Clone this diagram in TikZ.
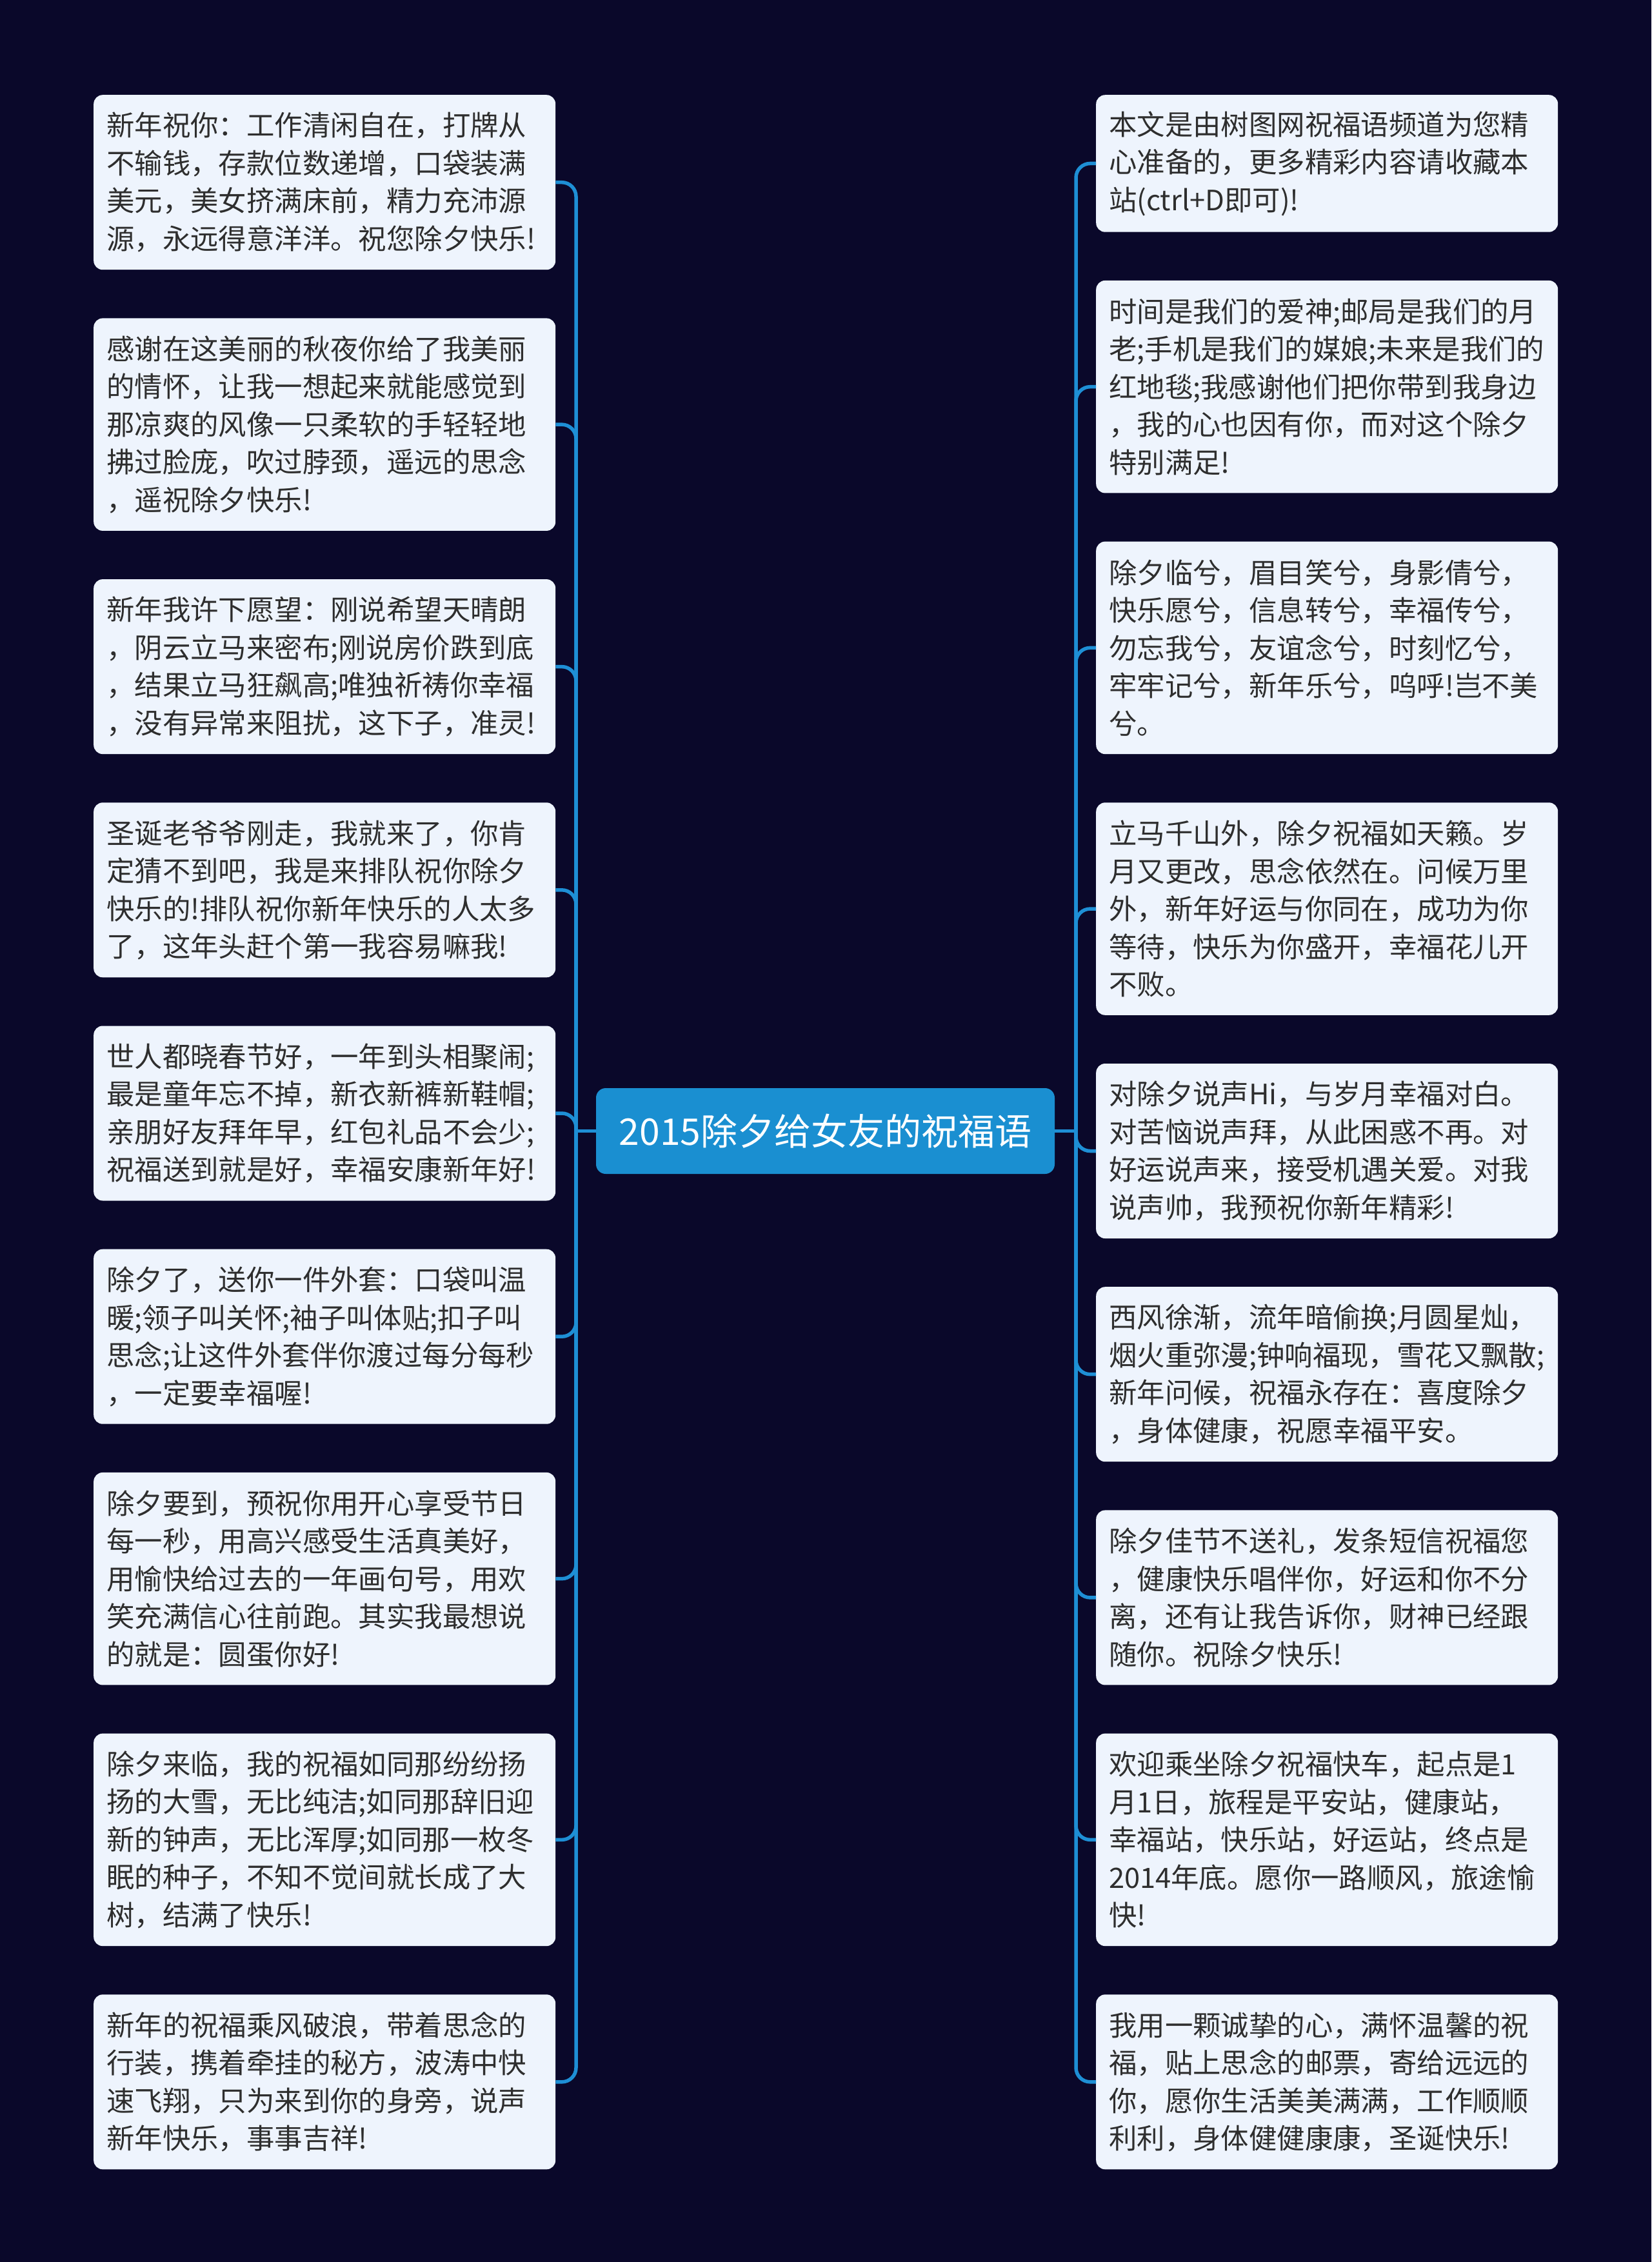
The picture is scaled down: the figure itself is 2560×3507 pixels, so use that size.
\documentclass[tikz,border=0pt]{standalone}
\usepackage{fontspec}
\setmainfont{Noto Sans CJK SC}
\usetikzlibrary{positioning}
\definecolor{bgc}{HTML}{0A082A}
\definecolor{leafc}{HTML}{EEF4FD}
\definecolor{txtc}{HTML}{2E2E2E}
\definecolor{linec}{HTML}{1E8FD5}
\definecolor{rootc}{HTML}{1A8FD1}
\begin{document}
\begin{tikzpicture}[x=1pt,y=-1pt,
  leaf/.style={draw=none, fill=leafc, rounded corners=14pt, text=txtc, align=left,
    text width=676pt, inner xsep=20pt, inner ysep=0pt, minimum width=716pt,
    font=\fontsize{43.4}{58.5}\selectfont},
  leafthree/.style={leaf, minimum height=212.5pt},
  leaffour/.style={leaf, minimum height=271pt},
  leaffive/.style={leaf, minimum height=329.5pt},
  root/.style={fill=rootc, rounded corners=15pt, text=white, minimum width=711pt,
    minimum height=133pt, inner sep=0pt, font=\fontsize{57}{64}\selectfont},
  conn/.style={draw=linec, line width=5.5pt},
  branch/.style={conn, rounded corners=22pt},
  node distance=74.8pt]
\fill[bgc] (0,0) rectangle (2560,3507);
\useasboundingbox (0,0) rectangle (2560,3507);

\node[root] (C) at (1279.5,1753.5) {2015除夕给女友的祝福语};

% left column
\node[leaffour, anchor=north west] (L1) at (145,147) {新年祝你：工作清闲自在，打牌从\\不输钱，存款位数递增，口袋装满\\美元，美女挤满床前，精力充沛源\\源，永远得意洋洋。祝您除夕快乐!};
\node[leaffive, below=of L1] (L2) {感谢在这美丽的秋夜你给了我美丽\\的情怀，让我一想起来就能感觉到\\那凉爽的风像一只柔软的手轻轻地\\拂过脸庞，吹过脖颈，遥远的思念\\，遥祝除夕快乐!};
\node[leaffour, below=of L2] (L3) {新年我许下愿望：刚说希望天晴朗\\，阴云立马来密布;刚说房价跌到底\\，结果立马狂飙高;唯独祈祷你幸福\\，没有异常来阻扰，这下子，准灵!};
\node[leaffour, below=of L3] (L4) {圣诞老爷爷刚走，我就来了，你肯\\定猜不到吧，我是来排队祝你除夕\\快乐的!排队祝你新年快乐的人太多\\了，这年头赶个第一我容易嘛我!};
\node[leaffour, below=of L4] (L5) {世人都晓春节好，一年到头相聚闹;\\最是童年忘不掉，新衣新裤新鞋帽;\\亲朋好友拜年早，红包礼品不会少;\\祝福送到就是好，幸福安康新年好!};
\node[leaffour, below=of L5] (L6) {除夕了，送你一件外套：口袋叫温\\暖;领子叫关怀;袖子叫体贴;扣子叫\\思念;让这件外套伴你渡过每分每秒\\，一定要幸福喔!};
\node[leaffive, below=of L6] (L7) {除夕要到，预祝你用开心享受节日\\每一秒，用高兴感受生活真美好，\\用愉快给过去的一年画句号，用欢\\笑充满信心往前跑。其实我最想说\\的就是：圆蛋你好!};
\node[leaffive, below=of L7] (L8) {除夕来临，我的祝福如同那纷纷扬\\扬的大雪，无比纯洁;如同那辞旧迎\\新的钟声，无比浑厚;如同那一枚冬\\眠的种子，不知不觉间就长成了大\\树，结满了快乐!};
\node[leaffour, below=of L8] (L9) {新年的祝福乘风破浪，带着思念的\\行装，携着牵挂的秘方，波涛中快\\速飞翔，只为来到你的身旁，说声\\新年快乐，事事吉祥!};

% right column
\node[leafthree, anchor=north west] (R1) at (1699,147) {本文是由树图网祝福语频道为您精\\心准备的，更多精彩内容请收藏本\\站(ctrl+D即可)!};
\node[leaffive, below=of R1] (R2) {时间是我们的爱神;邮局是我们的月\\老;手机是我们的媒娘;未来是我们的\\红地毯;我感谢他们把你带到我身边\\，我的心也因有你，而对这个除夕\\特别满足!};
\node[leaffive, below=of R2] (R3) {除夕临兮，眉目笑兮，身影倩兮，\\快乐愿兮，信息转兮，幸福传兮，\\勿忘我兮，友谊念兮，时刻忆兮，\\牢牢记兮，新年乐兮，呜呼!岂不美\\兮。};
\node[leaffive, below=of R3] (R4) {立马千山外，除夕祝福如天籁。岁\\月又更改，思念依然在。问候万里\\外，新年好运与你同在，成功为你\\等待，快乐为你盛开，幸福花儿开\\不败。};
\node[leaffour, below=of R4] (R5) {对除夕说声Hi，与岁月幸福对白。\\对苦恼说声拜，从此困惑不再。对\\好运说声来，接受机遇关爱。对我\\说声帅，我预祝你新年精彩!};
\node[leaffour, below=of R5] (R6) {西风徐渐，流年暗偷换;月圆星灿，\\烟火重弥漫;钟响福现，雪花又飘散;\\新年问候，祝福永存在：喜度除夕\\，身体健康，祝愿幸福平安。};
\node[leaffour, below=of R6] (R7) {除夕佳节不送礼，发条短信祝福您\\，健康快乐唱伴你，好运和你不分\\离，还有让我告诉你，财神已经跟\\随你。祝除夕快乐!};
\node[leaffive, below=of R7] (R8) {欢迎乘坐除夕祝福快车，起点是1\\月1日，旅程是平安站，健康站，\\幸福站，快乐站，好运站，终点是\\2014年底。愿你一路顺风，旅途愉\\快!};
\node[leaffour, below=of R8] (R9) {我用一颗诚挚的心，满怀温馨的祝\\福，贴上思念的邮票，寄给远远的\\你，愿你生活美美满满，工作顺顺\\利利，身体健健康康，圣诞快乐!};

% connectors
\coordinate (jL) at (893,1753.5);
\coordinate (jR) at (1668,1753.5);
\draw[conn] (C.west) -- (jL);
\draw[conn] (C.east) -- (jR);
\foreach \n in {L1,L2,L3,L4,L5,L6,L7,L8,L9}
  \draw[branch] (jL) |- (\n.east);
\foreach \n in {R1,R2,R3,R4,R5,R6,R7,R8,R9}
  \draw[branch] (jR) |- (\n.west);
\end{tikzpicture}
\end{document}
